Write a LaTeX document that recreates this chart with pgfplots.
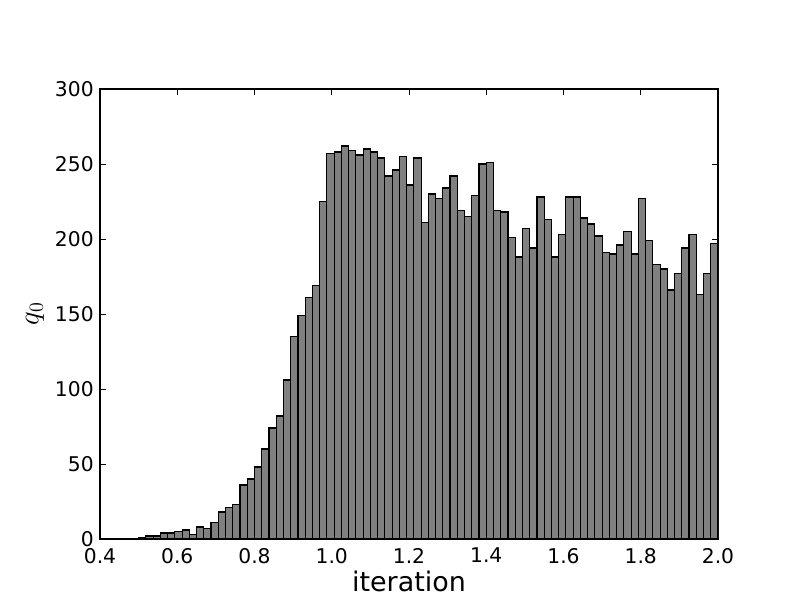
\documentclass[border=0pt]{standalone}
\usepackage{fontspec}
\setmainfont{DejaVu Sans}
\usepackage{pgfplots}
\pgfplotsset{compat=1.18}
\usepackage{pgfplotstable}

% histogram: left bin edges, counts (last row closes the final bin)
\pgfplotstableread{
x y
0.5 1
0.51875 2
0.5375 2
0.55625 4
0.575 4
0.59375 5
0.6125 6
0.63125 3
0.65 8
0.66875 7
0.6875 11
0.70625 18
0.725 21
0.74375 23
0.7625 36
0.78125 40
0.8 48
0.81875 60
0.8375 74
0.85625 82
0.875 106
0.89375 135
0.9125 149
0.93125 161
0.95 169
0.96875 225
0.9875 257
1.00625 258
1.025 262
1.04375 259
1.0625 256
1.08125 260
1.1 258
1.11875 254
1.1375 242
1.15625 246
1.175 255
1.19375 236
1.2125 254
1.23125 211
1.25 230
1.26875 227
1.2875 234
1.30625 242
1.325 219
1.34375 215
1.3625 229
1.38125 250
1.4 251
1.41875 219
1.4375 218
1.45625 201
1.475 188
1.49375 207
1.5125 194
1.53125 228
1.55 213
1.56875 188
1.5875 203
1.60625 228
1.625 228
1.64375 214
1.6625 210
1.68125 202
1.7 191
1.71875 190
1.7375 196
1.75625 205
1.775 190
1.79375 227
1.8125 199
1.83125 183
1.85 180
1.86875 166
1.8875 177
1.90625 194
1.925 203
1.94375 163
1.9625 177
1.98125 197
2.0 197
}\histdata

\begin{document}
\begin{tikzpicture}
\path[use as bounding box] (-72pt,-43.92pt) rectangle (504pt,388.08pt);
\begin{axis}[
  scale only axis,
  width=444.96pt,
  height=324pt,
  xmin=0.4, xmax=2.0,
  ymin=0, ymax=300,
  xtick={0.4,0.6,...,2.0},
  ytick={0,50,...,300},
  /pgf/number format/assume math mode=true,
  tick label style={font=\fontsize{14.6}{16}\selectfont},
  xticklabel style={yshift=-3pt, /pgf/number format/.cd, fixed, fixed zerofill, precision=1},
  yticklabel style={xshift=-1pt},
  tick align=inside,
  major tick length=4pt,
  tick style={black, line width=0.6pt},
  axis line style={line width=0.8pt},
  xlabel={iteration},
  ylabel={$q_0$},
  xlabel style={font=\fontsize{19.4}{22}\selectfont, yshift=1.5pt},
  ylabel style={font=\fontsize{19.4}{22}\selectfont, yshift=1pt},
]
\addplot[ybar interval, fill=gray, draw=black, line width=0.8pt] table[x=x, y=y] {\histdata};
\end{axis}
\end{tikzpicture}
\end{document}
